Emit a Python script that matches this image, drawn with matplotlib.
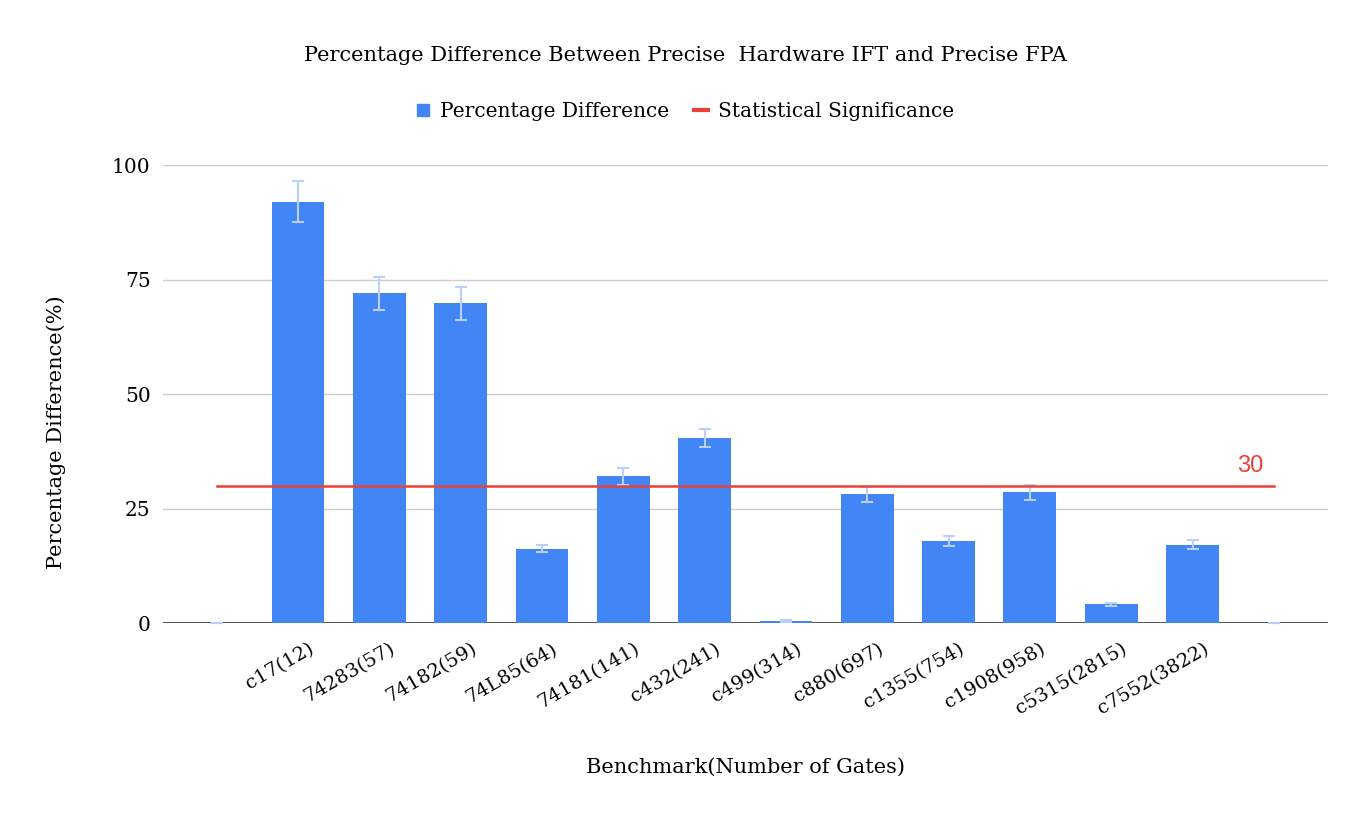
import matplotlib.pyplot as plt
import matplotlib.transforms as mtransforms
from matplotlib.lines import Line2D

plt.rcParams['font.family'] = ['DejaVu Serif']

# benchmark names, with empty slots at both ends like the original sheet
benchmarks = ["", "c17(12)", "74283(57)", "74182(59)", "74L85(64)", "74181(141)",
              "c432(241)", "c499(314)", "c880(697)", "c1355(754)", "c1908(958)",
              "c5315(2815)", "c7552(3822)", ""]
pct_diff = [0, 92.0, 72.0, 69.8, 16.2, 32.0, 40.4, 0.5, 28.1, 17.9, 28.5, 4.1, 17.1, 0]
pct_err = [0, 4.5, 3.6, 3.6, 0.8, 1.8, 2.0, 0.2, 1.6, 1.0, 1.6, 0.3, 1.0, 0]
significance = [30] * len(benchmarks)

x = list(range(-1, len(benchmarks) - 1))

fig = plt.figure(figsize=(13.7, 8.19), dpi=100)
ax = fig.add_axes([0.119, 0.2393, 0.85, 0.5592])

ax.bar(x[1:-1], pct_diff[1:-1], width=0.65, color="#4285f4", zorder=2)
ax.errorbar(x, pct_diff, yerr=pct_err, fmt="none", ecolor="#b9d0fa",
            elinewidth=1.5, capsize=4.5, capthick=1.5, zorder=3, clip_on=False)
ax.plot(x, significance, color="#ea4335", linewidth=1.8, zorder=4)
ax.text(x[-1] - 0.13, significance[-1] + 1.9, "30", color="#ea4335",
        fontsize=17, family="Liberation Sans", ha="right", va="bottom")

ax.set_xlim(-1.66, 12.66)
ax.set_ylim(0, 100)
ax.set_yticks([0, 25, 50, 75, 100])
ax.yaxis.grid(True, color="#cccccc", linewidth=1)
ax.set_axisbelow(True)
ax.axhline(0, color="#333333", linewidth=1.2, zorder=1)
for s in ax.spines.values():
    s.set_visible(False)
ax.tick_params(axis="y", length=0, pad=9, labelsize=14.5)
ax.tick_params(axis="x", length=0, pad=12, labelsize=14)

ax.set_xticks(x[1:-1])
ax.set_xticklabels(benchmarks[1:-1], rotation=30, ha="right", rotation_mode="anchor")
shift = mtransforms.ScaledTranslation(10 / 100, 0, fig.dpi_scale_trans)
for lbl in ax.get_xticklabels():
    lbl.set_transform(lbl.get_transform() + shift)

ax.set_ylabel("Percentage Difference(%)", fontsize=15)
ax.yaxis.set_label_coords(-0.083, 0.417)
ax.set_xlabel("Benchmark(Number of Gates)", fontsize=15, labelpad=29)

fig.text(0.5, 0.932, "Percentage Difference Between Precise  Hardware IFT and Precise FPA",
         ha="center", va="center", fontsize=15)

handles = [Line2D([], [], marker="s", linestyle="none", color="#4285f4", markersize=9),
           Line2D([], [], color="#ea4335", linewidth=3)]
fig.legend(handles, ["Percentage Difference", "Statistical Significance"],
           loc="center", bbox_to_anchor=(0.5, 0.864), ncol=2, frameon=False,
           fontsize=14.5, handlelength=0.7, handletextpad=0.5, columnspacing=1.2)

fig.savefig("out.png", dpi=100)
